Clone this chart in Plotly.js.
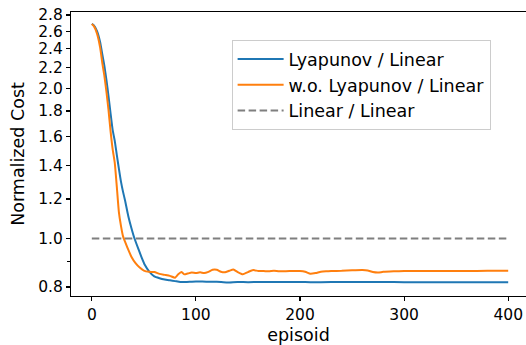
<!DOCTYPE html>
<html>
<head>
<meta charset="utf-8">
<script src="https://cdn.plot.ly/plotly-3.0.1.min.js"></script>
<style>
html,body{margin:0;padding:0;overflow:hidden;background:#fff;}
#chart{width:526px;height:345px;}
</style>
</head>
<body>
<div id="chart"></div>
<script>
// Lyapunov / Linear
const lyapEpisodes = [0,2,5,8,10,12,14,16,18,20,22,24,26,28,30,32,35,38,41,45,48,51,55,60,65,70,75,80,85,90,100,110,120,130,140,150,160,180,200,210,220,240,260,280,300,320,340,360,380,400];
const lyapCost = [2.687,2.67,2.60,2.47,2.34,2.22,2.08,1.93,1.78,1.65,1.57,1.47,1.38,1.30,1.24,1.19,1.11,1.05,1.00,0.95,0.915,0.885,0.86,0.84,0.833,0.828,0.825,0.822,0.819,0.819,0.821,0.820,0.820,0.817,0.819,0.818,0.819,0.819,0.819,0.818,0.818,0.819,0.819,0.819,0.818,0.818,0.818,0.818,0.818,0.818];

// w.o. Lyapunov / Linear
const woEpisodes = [0,2,5,8,10,12,14,16,18,20,22,24,26,28,30,32,35,38,42,46,50,55,60,65,70,75,80,83,86,89,92,96,100,104,108,112,116,120,124,128,132,136,140,145,150,155,160,165,170,175,180,190,200,205,210,215,220,225,230,240,250,260,265,270,275,280,290,300,320,340,360,380,400];
const woCost = [2.687,2.66,2.57,2.41,2.25,2.12,1.97,1.81,1.64,1.51,1.42,1.27,1.13,1.06,1.01,0.985,0.95,0.92,0.893,0.875,0.863,0.858,0.857,0.85,0.846,0.842,0.835,0.848,0.857,0.848,0.851,0.855,0.853,0.856,0.853,0.858,0.866,0.866,0.858,0.856,0.862,0.867,0.857,0.848,0.857,0.865,0.861,0.861,0.860,0.862,0.860,0.861,0.861,0.858,0.850,0.853,0.858,0.860,0.861,0.862,0.864,0.865,0.863,0.857,0.855,0.858,0.860,0.861,0.861,0.861,0.861,0.862,0.862];

// Linear / Linear baseline
const baseEpisodes = [0,400];
const baseCost = [1.0,1.0];

const yTickVals = [0.8,1.0,1.2,1.4,1.6,1.8,2.0,2.2,2.4,2.6,2.8];
const yTickText = ['0.8','1.0','1.2','1.4','1.6','1.8','2.0','2.2','2.4','2.6','2.8'];
const yMinorVals = [0.9];
const xTickVals = [0,100,200,300,400];

const font = 'DejaVu Sans, sans-serif';

const traces = [
  {x: lyapEpisodes, y: lyapCost, name: 'Lyapunov / Linear', mode: 'lines',
   line: {color: '#1f77b4', width: 2, shape: 'spline', smoothing: 0.5}},
  {x: woEpisodes, y: woCost, name: 'w.o. Lyapunov / Linear', mode: 'lines',
   line: {color: '#ff7f0e', width: 2, shape: 'spline', smoothing: 0.5}},
  {x: baseEpisodes, y: baseCost, name: 'Linear / Linear', mode: 'lines',
   line: {color: '#7f7f7f', width: 2, dash: '7.5px,3.5px'}}
];

const layout = {
  width: 526, height: 345,
  margin: {l: 71, r: 0, t: 12, b: 49},
  paper_bgcolor: '#fff', plot_bgcolor: '#fff',
  font: {family: font, size: 15.5, color: '#000'},
  showlegend: true,
  legend: {x: 0.353, y: 0.901, xanchor: 'left', yanchor: 'top',
           bgcolor: '#fff', bordercolor: '#cccccc', borderwidth: 1,
           itemwidth: 46, tracegroupgap: 0,
           font: {family: font, size: 17.5, color: '#000'}},
  xaxis: {
    range: [-20, 417.1], showgrid: false, zeroline: false,
    showline: true, linecolor: '#000', linewidth: 1.1, mirror: true,
    ticks: 'outside', ticklen: 4, tickwidth: 1.1, tickcolor: '#000',
    tickmode: 'array', tickvals: xTickVals,
    tickfont: {family: font, size: 15.5, color: '#000'},
    title: {text: 'episoid', font: {family: font, size: 17.5, color: '#000'}, standoff: 9}
  },
  yaxis: {
    type: 'log', range: [-0.1149, 0.4532], showgrid: false, zeroline: false,
    showline: true, linecolor: '#000', linewidth: 1.1, mirror: false,
    ticks: 'outside', ticklen: 4, tickwidth: 1.1, tickcolor: '#000',
    tickmode: 'array', tickvals: yTickVals, ticktext: yTickText,
    tickfont: {family: font, size: 15.5, color: '#000'},
    minor: {tickmode: 'array', tickvals: yMinorVals, ticks: 'outside', ticklen: 2.5, tickwidth: 1, tickcolor: '#000', showgrid: false},
    title: {text: 'Normalized Cost', font: {family: font, size: 17.5, color: '#000'}, standoff: 9}
  }
};

Plotly.newPlot('chart', traces, layout, {displayModeBar: false, staticPlot: true});
</script>
</body>
</html>
